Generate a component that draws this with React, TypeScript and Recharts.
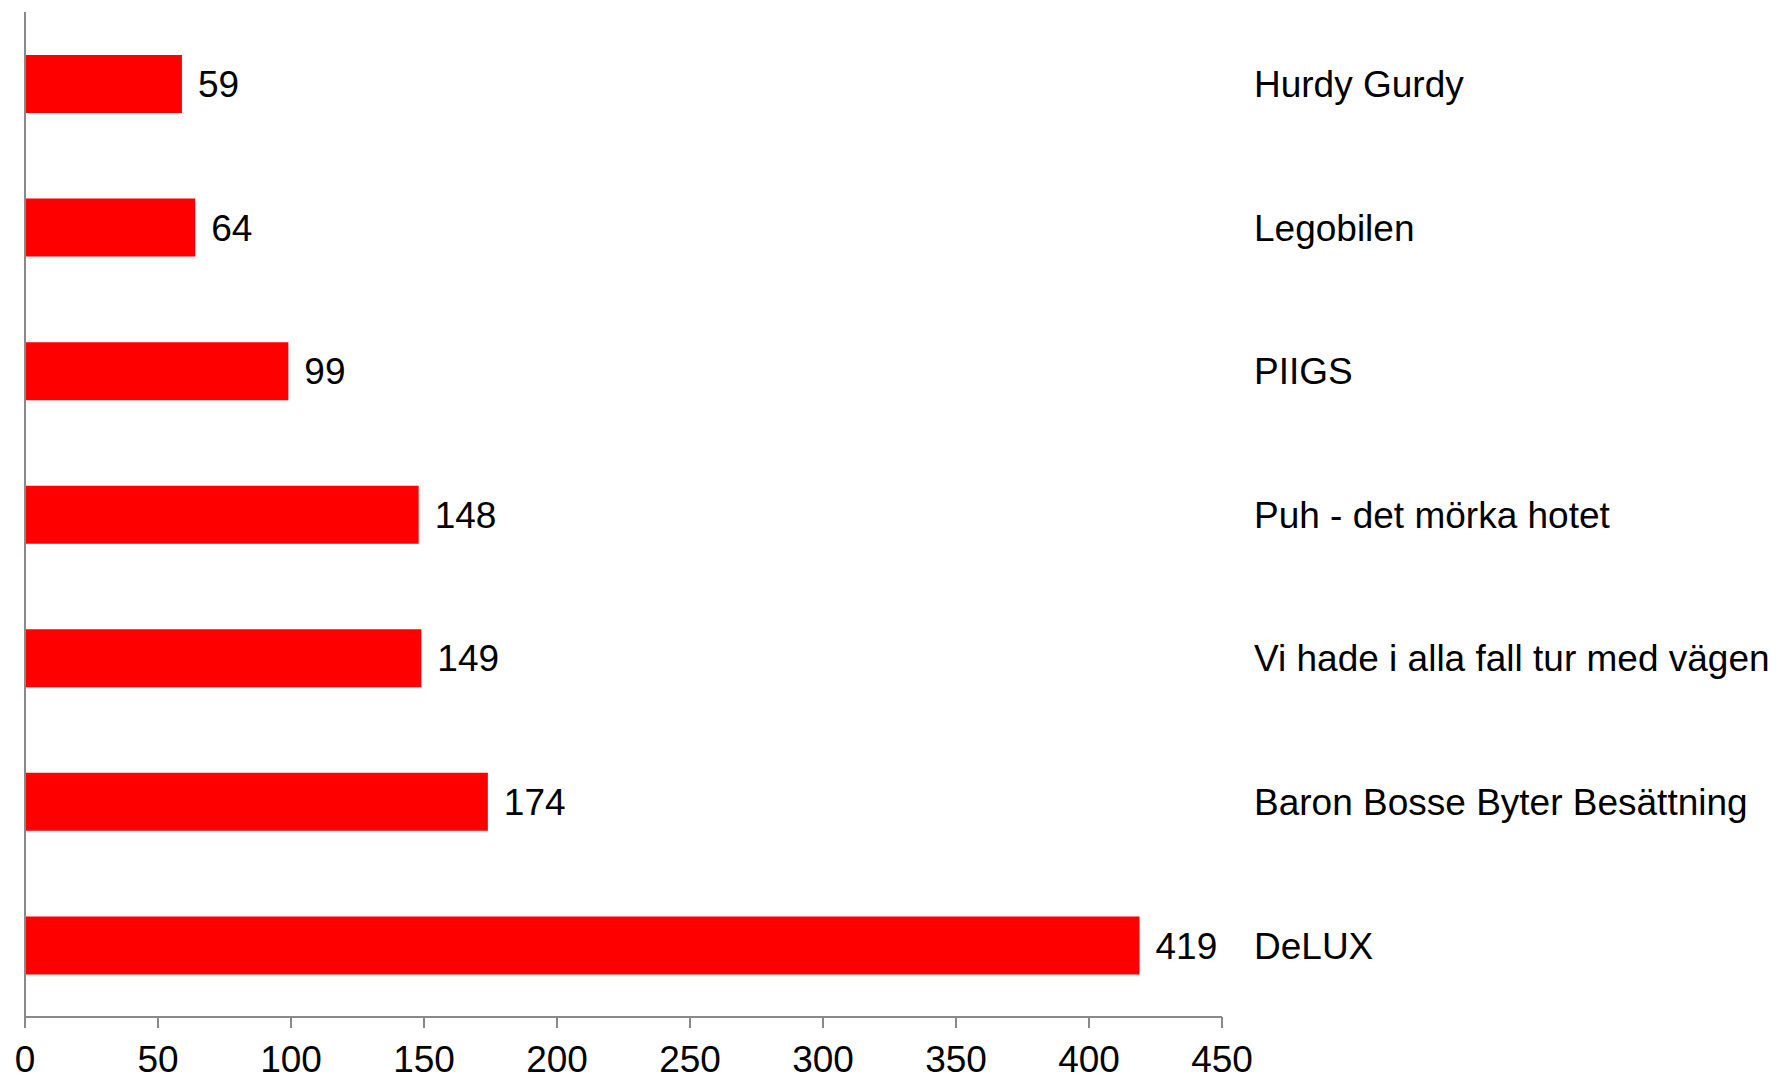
import { BarChart, Bar, XAxis, YAxis, LabelList } from 'recharts';

const titles = [
  'Hurdy Gurdy',
  'Legobilen',
  'PIIGS',
  'Puh - det mörka hotet',
  'Vi hade i alla fall tur med vägen',
  'Baron Bosse Byter Besättning',
  'DeLUX',
];
const counts = [59, 64, 99, 148, 149, 174, 419];
const xTicks = [0, 50, 100, 150, 200, 250, 300, 350, 400, 450];

const data = titles.map((name, i) => ({ name, value: counts[i] }));

const AXIS = '#898989';
const FONT = 'Liberation Sans, Arial, sans-serif';
const FS = 37;

function RightTick({ x, y, payload }: any) {
  return (
    <text x={x + 2} y={y} dy="0.36em" textAnchor="start" fontSize={FS} fill="#000" fontFamily={FONT}>
      {payload.value}
    </text>
  );
}

export default function App() {
  return (
    <div style={{ position: 'absolute', left: 0, top: 0, background: '#fff' }}>
      <BarChart
        width={1780}
        height={1078}
        data={data}
        layout="vertical"
        margin={{ top: 12, right: 0, left: 0, bottom: 0 }}
      >
        <XAxis
          type="number"
          domain={[0, 450]}
          ticks={xTicks}
          interval={0}
          height={61}
          stroke={AXIS}
          strokeWidth={2}
          tickSize={11}
          tickMargin={18}
          tick={{ fontSize: FS, fill: '#000', fontFamily: FONT }}
        />
        <YAxis
          yAxisId="left"
          type="category"
          dataKey="name"
          width={25}
          stroke={AXIS}
          strokeWidth={2}
          tickLine={false}
          tick={false}
        />
        <YAxis
          yAxisId="right"
          orientation="right"
          type="category"
          dataKey="name"
          width={558}
          axisLine={false}
          tickLine={false}
          tickSize={0}
          tickMargin={30}
          tick={<RightTick />}
        />
        <Bar yAxisId="left" dataKey="value" fill="#ff0000" barSize={58} isAnimationActive={false}>
          <LabelList
            dataKey="value"
            position="right"
            offset={16}
            fontSize={FS}
            fill="#000"
            fontFamily={FONT}
          />
        </Bar>
      </BarChart>
    </div>
  );
}
